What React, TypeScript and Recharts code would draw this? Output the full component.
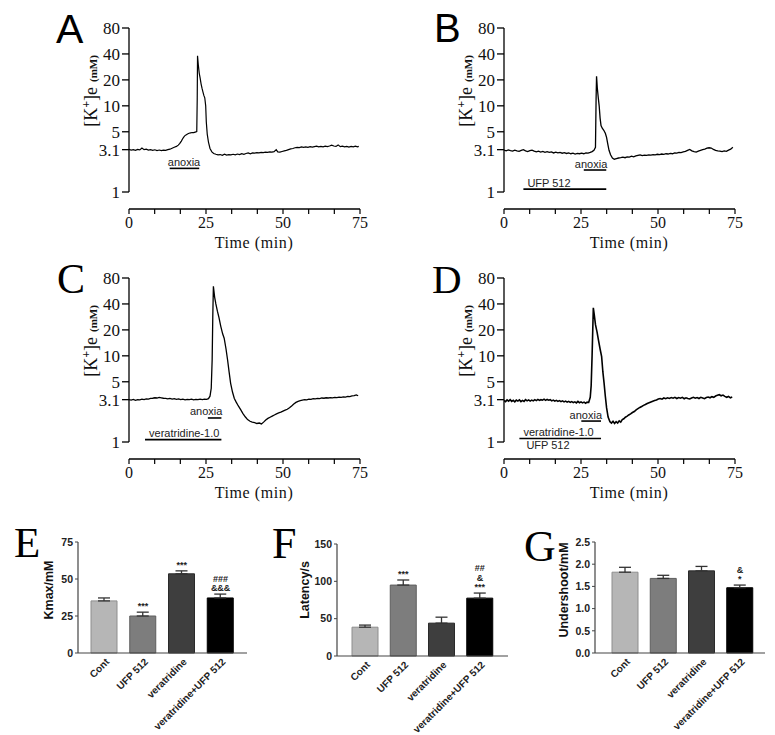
import React from 'react';
import {
  LineChart, Line, XAxis, YAxis, ReferenceLine, ComposedChart, Bar, ErrorBar, LabelList, Cell,
} from 'recharts';

// ---------- Trace data: [time (min), [K+]e (mM)] ----------
const traceA: [number, number][] = [
  [0,3.12],[0.7,3.06],[1.4,3.1],[2.1,3.04],[2.8,3.12],[3.5,3.08],[4.2,3.24],[4.9,3.1],[5.6,3.14],[6.3,3.06],[7,3.1],[7.7,3.05],[8.4,3.09],[9.1,3.03],[9.8,3.07],[10.5,3.02],[11.2,3.06],[11.9,3.04],[12.6,3.1],[13.3,3.14],[14,3.22],[14.7,3.3],[15.4,3.38],[16,3.5],[16.5,3.66],[17,3.9],[17.5,4.2],[18,4.45],[18.5,4.6],[19,4.72],[19.5,4.8],[20,4.86],[20.5,4.9],[21,4.88],[21.5,4.96],[22,5.02],[22.15,12],[22.25,38],[22.5,30],[22.8,24],[23.1,21],[23.4,18],[23.7,16],[24,14.5],[24.3,13.2],[24.6,12.4],[24.9,10],[25.1,6.5],[25.4,4.7],[25.8,3.8],[26.3,3.2],[26.9,2.92],[27.5,2.8],[28.2,2.74],[28.9,2.7],[29.6,2.72],[30.3,2.66],[31,2.74],[31.7,2.68],[32.4,2.72],[33.1,2.7],[33.8,2.74],[34.5,2.7],[35.2,2.76],[35.9,2.72],[36.6,2.78],[37.3,2.74],[38,2.8],[38.7,2.84],[39.4,2.78],[40.1,2.84],[40.8,2.82],[41.5,2.86],[42.2,2.84],[42.9,2.88],[43.6,2.86],[44.3,2.9],[45,2.88],[45.7,2.92],[46.4,2.9],[47.1,2.94],[47.8,3.1],[48.3,2.92],[49,2.9],[49.7,2.95],[50.4,3.0],[51.1,3.04],[51.8,3.1],[52.5,3.16],[53.2,3.2],[53.9,3.26],[54.6,3.3],[55.3,3.28],[56,3.34],[56.7,3.3],[57.4,3.34],[58.1,3.3],[58.8,3.36],[59.5,3.32],[60.2,3.36],[60.9,3.4],[61.6,3.34],[62.3,3.38],[63,3.34],[63.7,3.4],[64.4,3.36],[65.1,3.42],[65.8,3.5],[66.5,3.42],[67.2,3.38],[67.9,3.52],[68.6,3.36],[69.3,3.4],[70,3.34],[70.7,3.38],[71.4,3.32],[72.1,3.38],[72.8,3.34],[73.5,3.4],[74.2,3.34],[74.6,3.38],
];
const traceB: [number, number][] = [
  [0,3.06],[0.7,3.0],[1.4,3.08],[2.1,3.02],[2.8,2.98],[3.5,3.06],[4.2,3.0],[4.9,2.96],[5.6,3.04],[6.3,3.1],[7,3.0],[7.7,2.94],[8.4,3.02],[9.1,3.06],[9.8,2.98],[10.5,2.92],[11.2,2.98],[11.9,2.9],[12.6,2.96],[13.3,2.88],[14,2.94],[14.7,2.88],[15.4,2.92],[16.1,2.84],[16.8,2.9],[17.5,2.84],[18.2,2.88],[18.9,2.82],[19.6,2.86],[20.3,2.8],[21,2.84],[21.7,2.78],[22.4,2.82],[23.1,2.76],[23.8,2.8],[24.5,2.78],[25.2,2.82],[25.9,2.78],[26.6,2.84],[27.3,2.82],[28,2.88],[28.6,2.94],[29.2,3.05],[29.7,3.3],[29.9,12],[30.05,22],[30.3,16],[30.6,12.5],[30.9,10],[31.2,7.2],[31.5,5.9],[31.9,5.5],[32.4,5.2],[32.9,4.8],[33.3,4.3],[33.7,3.6],[34.1,3.05],[34.6,2.7],[35.2,2.48],[35.8,2.4],[36.5,2.44],[37.2,2.48],[37.9,2.5],[38.6,2.54],[39.3,2.5],[40,2.56],[40.7,2.54],[41.4,2.6],[42.1,2.56],[42.8,2.62],[43.5,2.66],[44.2,2.7],[44.9,2.64],[45.6,2.68],[46.3,2.66],[47,2.7],[47.7,2.68],[48.4,2.72],[49.1,2.7],[49.8,2.74],[50.5,2.72],[51.2,2.76],[51.9,2.74],[52.6,2.78],[53.3,2.76],[54,2.8],[54.7,2.78],[55.4,2.84],[56.1,2.82],[56.8,2.88],[57.5,2.86],[58.2,2.92],[58.9,2.96],[59.6,3.04],[60.3,3.12],[61,3.0],[61.7,2.94],[62.4,2.9],[63.1,2.98],[63.8,3.04],[64.5,3.1],[65.2,3.14],[65.9,3.22],[66.6,3.26],[67.3,3.24],[68,3.12],[68.7,3.04],[69.4,3.0],[70.1,2.98],[70.8,2.94],[71.5,3.0],[72.2,2.96],[72.9,3.06],[73.6,3.14],[74.3,3.3],
];
const traceC: [number, number][] = [
  [0,3.1],[0.7,3.06],[1.4,3.12],[2.1,3.04],[2.8,3.1],[3.5,3.08],[4.2,3.14],[4.9,3.1],[5.6,3.16],[6.3,3.14],[7,3.2],[7.7,3.22],[8.4,3.26],[9.1,3.24],[9.8,3.3],[10.5,3.26],[11.2,3.22],[11.9,3.2],[12.6,3.16],[13.3,3.2],[14,3.14],[14.7,3.18],[15.4,3.12],[16.1,3.16],[16.8,3.1],[17.5,3.14],[18.2,3.08],[18.9,3.12],[19.6,3.1],[20.3,3.14],[21,3.08],[21.7,3.12],[22.4,3.1],[23.1,3.14],[23.8,3.1],[24.5,3.14],[25.2,3.12],[25.8,3.18],[26.3,3.4],[26.7,4.2],[27.0,9],[27.2,28],[27.4,64],[27.8,48],[28.2,40],[28.7,33],[29.2,28],[29.8,22],[30.4,18],[30.9,16],[31.5,12],[32,9],[32.5,6.5],[33,4.8],[33.6,3.8],[34.2,3.2],[34.8,2.9],[35.5,2.62],[36.3,2.36],[37,2.14],[37.8,1.95],[38.5,1.82],[39.3,1.74],[40,1.7],[40.8,1.68],[41.5,1.64],[42.3,1.66],[43,1.62],[43.7,1.7],[44.4,1.8],[45.1,1.88],[45.8,1.94],[46.5,2.0],[47.2,2.06],[47.9,2.12],[48.6,2.18],[49.3,2.22],[50,2.28],[50.7,2.34],[51.4,2.4],[52.1,2.5],[52.8,2.62],[53.5,2.76],[54.2,2.88],[54.9,2.96],[55.6,3.02],[56.3,3.06],[57,3.1],[57.7,3.08],[58.4,3.14],[59.1,3.12],[59.8,3.18],[60.5,3.16],[61.2,3.2],[61.9,3.18],[62.6,3.24],[63.3,3.22],[64,3.26],[64.7,3.24],[65.4,3.28],[66.1,3.26],[66.8,3.3],[67.5,3.28],[68.2,3.32],[68.9,3.3],[69.6,3.34],[70.3,3.32],[71,3.38],[71.7,3.36],[72.4,3.42],[73.1,3.46],[73.8,3.52],[74.4,3.44],
];
const traceD: [number, number][] = [
  [0,3.04],[0.5,2.94],[1,3.08],[1.5,2.98],[2,3.1],[2.5,2.96],[3,3.04],[3.5,2.92],[4,3.06],[4.5,2.98],[5,3.08],[5.5,2.94],[6,3.04],[6.5,2.96],[7,3.1],[7.5,3.0],[8,3.08],[8.5,2.98],[9,3.06],[9.5,3.0],[10,3.1],[10.5,3.02],[11,3.12],[11.5,3.04],[12,3.1],[12.5,3.06],[13,3.14],[13.5,3.04],[14,3.12],[14.5,3.06],[15,3.1],[15.5,3.0],[16,3.06],[16.5,2.98],[17,3.04],[17.5,2.96],[18,3.02],[18.5,2.94],[19,3.0],[19.5,2.92],[20,2.98],[20.5,2.9],[21,2.96],[21.5,2.88],[22,2.94],[22.5,2.86],[23,2.92],[23.5,2.84],[24,2.96],[24.5,2.86],[25,2.92],[25.5,2.84],[26,2.9],[26.5,2.82],[27,2.9],[27.5,2.88],[28,3.3],[28.3,4.5],[28.6,10],[29,36],[29.3,30],[29.7,23],[30.2,19],[30.7,15],[31.2,12],[31.7,9.8],[32.1,6.5],[32.5,4.8],[32.9,3.4],[33.3,2.5],[33.8,1.95],[34.4,1.72],[34.9,1.66],[35.4,1.74],[35.9,1.64],[36.4,1.72],[36.9,1.66],[37.4,1.76],[37.9,1.7],[38.4,1.82],[38.9,1.86],[39.4,1.94],[39.9,1.98],[40.5,2.06],[41.1,2.12],[41.7,2.2],[42.3,2.26],[42.9,2.36],[43.5,2.44],[44.1,2.52],[44.7,2.58],[45.3,2.66],[45.9,2.72],[46.5,2.8],[47.1,2.86],[47.7,2.92],[48.3,2.98],[48.9,3.04],[49.5,3.08],[50.1,3.16],[50.7,3.2],[51.3,3.14],[51.9,3.24],[52.5,3.18],[53.1,3.26],[53.7,3.2],[54.3,3.28],[54.9,3.22],[55.5,3.3],[56.1,3.2],[56.7,3.28],[57.3,3.22],[57.9,3.3],[58.5,3.18],[59.1,3.26],[59.7,3.2],[60.3,3.16],[60.9,3.24],[61.5,3.3],[62.1,3.22],[62.7,3.28],[63.3,3.2],[63.9,3.3],[64.5,3.24],[65.1,3.18],[65.7,3.28],[66.3,3.32],[66.9,3.26],[67.5,3.36],[68.1,3.3],[68.7,3.42],[69.3,3.48],[69.9,3.54],[70.5,3.44],[71.1,3.5],[71.7,3.38],[72.3,3.3],[72.9,3.38],[73.5,3.26],[74.1,3.32],
];

// ---------- Treatment bars drawn under traces (time range, level) ----------
type Mark = { from: number; to: number; at: number; text: string; align: 'start' | 'end'; sub?: string };
const marksA: Mark[] = [{ from: 13.2, to: 22.8, at: 1.88, text: 'anoxia', align: 'end' }];
const marksB: Mark[] = [
  { from: 25.9, to: 33.2, at: 1.8, text: 'anoxia', align: 'end' },
  { from: 6.3, to: 33.2, at: 1.08, text: 'UFP 512', align: 'start' },
];
const marksC: Mark[] = [
  { from: 25.6, to: 30, at: 1.9, text: 'anoxia', align: 'end' },
  { from: 5.2, to: 30, at: 1.065, text: 'veratridine-1.0', align: 'start' },
];
const marksD: Mark[] = [
  { from: 25.1, to: 31.5, at: 1.75, text: 'anoxia', align: 'end' },
  { from: 5.0, to: 31.5, at: 1.1, text: 'veratridine-1.0', align: 'start', sub: 'UFP 512' },
];

const timeTicks = [0, 8.333, 16.667, 25, 33.333, 41.667, 50, 58.333, 66.667, 75];
const timeLabels = [0, 25, 50, 75];
const kTicks = [1, 3.1, 5, 10, 20, 40, 80];

// ---------- Bar chart data ----------
const groups = ['Cont', 'UFP 512', 'veratridine', 'veratridine+UFP 512'];
const kmaxMean = [35.2, 25.0, 53.5, 37.2];
const kmaxErr = [2.0, 2.6, 2.0, 2.6];
const kmaxSig = ['', '***', '***', '###|&&&'];
const latMean = [38.6, 95, 44, 77.5];
const latErr = [2.8, 6.8, 8, 6.8];
const latSig = ['', '***', '', '##|&|***'];
const undMean = [1.82, 1.68, 1.85, 1.47];
const undErr = [0.11, 0.07, 0.1, 0.06];
const undSig = ['', '', '', '&|*'];

const barFill = ['#b6b6b6', '#7d7d7d', '#3e3e3e', '#000000'];
const barStroke = ['#8e8e8e', '#5e5e5e', '#2a2a2a', '#000000'];

const SERIF = "'Liberation Serif', 'Times New Roman', serif";
const SANS = "'Liberation Sans', Arial, sans-serif";

const markLabel = (m: Mark) => (props: any) => {
  const vb = props.viewBox || {};
  const x1 = vb.x ?? 0;
  const w = vb.width ?? 0;
  const y = vb.y ?? 0;
  const tx = m.align === 'end' ? x1 + w + 1 : x1 + 4;
  return (
    <g>
      <text x={tx} y={y - 2.5} textAnchor={m.align} fontFamily={SANS} fontSize={11} fill="#222">{m.text}</text>
      {m.sub ? (
        <text x={x1 + 7} y={y + 10.5} textAnchor="start" fontFamily={SANS} fontSize={11} fill="#222">{m.sub}</text>
      ) : null}
    </g>
  );
};

const KLabel = () => (
  <text transform="translate(97,91) rotate(-90)" textAnchor="middle" fontFamily={SERIF} fill="#111">
    <tspan fontSize={18}>[K</tspan>
    <tspan fontSize={12} fontWeight="bold" dy={-7}>+</tspan>
    <tspan fontSize={18} dy={7}>]e</tspan>
    <tspan fontSize={11} fontWeight="bold" dx={5}>(mM)</tspan>
  </text>
);

const TimeLabel = () => (
  <text x={254} y={248} textAnchor="middle" fontFamily={SERIF} fontSize={16} letterSpacing={0.6} fill="#111">
    Time (min)
  </text>
);

const fmtTime = (v: number) => {
  const r = Math.round(v);
  return Math.abs(v - r) < 0.01 && timeLabels.includes(r) ? String(r) : '';
};

function TracePanel({ trace, marks, left, top, lw }: { trace: [number, number][]; marks: Mark[]; left: number; top: number; lw: number }) {
  const data = trace.map(([t, k]) => ({ t, k }));
  return (
    <div style={{ position: 'absolute', left, top }}>
      <LineChart width={385} height={252} data={data} margin={{ top: 28, right: 25, bottom: 0, left: 0 }}>
        <XAxis
          type="number" dataKey="t" domain={[0, 75]} ticks={timeTicks} interval={0} allowDataOverflow
          tickFormatter={fmtTime} height={43} tickSize={5} tickMargin={3}
          axisLine={{ stroke: '#000', strokeWidth: 1.3 }} tickLine={{ stroke: '#000', strokeWidth: 1.2 }}
          tick={{ fill: '#111', fontFamily: SERIF, fontSize: 16 }}
          label={{ content: TimeLabel }}
        />
        <YAxis
          type="number" scale="log" domain={[0.635, 80]} ticks={kTicks} interval={0} allowDataOverflow
          width={129} axisLine={false} tickSize={7} tickMargin={2}
          tickLine={{ stroke: '#000', strokeWidth: 1.3 }}
          tick={{ fill: '#111', fontFamily: SERIF, fontSize: 17 }}
          label={{ content: KLabel }}
        />
        <ReferenceLine segment={[{ x: 0, y: 1 }, { x: 0, y: 80 }]} stroke="#000" strokeWidth={1.3} />
        {marks.map((m, i) => (
          <ReferenceLine
            key={i}
            segment={[{ x: m.from, y: m.at }, { x: m.to, y: m.at }]}
            stroke="#000" strokeWidth={1.6}
            label={{ content: markLabel(m) }}
          />
        ))}
        <Line type="linear" dataKey="k" stroke="#000" strokeWidth={lw} dot={false} activeDot={false} isAnimationActive={false} />
      </LineChart>
    </div>
  );
}

const CatTick = (props: any) => {
  const { x, y, payload } = props;
  return (
    <g transform={`translate(${x + 3},${y + 1})`}>
      <text textAnchor="end" transform="rotate(-45)" dy="0.35em" fontFamily={SANS} fontSize={10} fontWeight="bold" fill="#222">
        {payload.value}
      </text>
    </g>
  );
};

const SigLabel = (props: any) => {
  const { x, y, value } = props;
  if (!value) return null;
  const lines = String(value).split('|');
  const n = lines.length;
  return (
    <g>
      {lines.map((s, i) => (
        <text key={i} x={x} y={y - 3 - (n - 1 - i) * 9.5} textAnchor="middle" fontFamily={SANS} fontSize={9} fontWeight="bold" fill="#222">
          {s}
        </text>
      ))}
    </g>
  );
};

type BarProps = {
  means: number[]; errs: number[]; sig: string[]; yLabel: string; yMax: number; yTicks: number[];
  fmt: (v: number) => string; left: number; width: number; plotL: number; plotT: number; plotB: number; plotR: number;
  padL: number; padR: number; labelX: number;
};

function BarPanel(p: BarProps) {
  const height = 245;
  const data = groups.map((g, i) => ({ g, m: p.means[i], e: [0, p.errs[i]], top: p.means[i] + p.errs[i], s: p.sig[i] }));
  const YLab = () => (
    <text transform={`translate(${p.labelX},100) rotate(-90)`} textAnchor="middle" fontFamily={SANS} fontSize={12.5} fontWeight="bold" fill="#111">
      {p.yLabel}
    </text>
  );
  return (
    <div style={{ position: 'absolute', left: p.left, top: 490 }}>
      <ComposedChart width={p.width} height={height} data={data} margin={{ top: p.plotT, right: p.width - p.plotR, bottom: 0, left: 0 }}>
        <XAxis
          dataKey="g" type="category" interval={0} padding={{ left: p.padL, right: p.padR }}
          height={height - p.plotB} tickLine={false} tickSize={4} tickMargin={2}
          axisLine={{ stroke: '#444', strokeWidth: 1.2 }} tick={<CatTick />}
        />
        <YAxis
          type="number" domain={[0, p.yMax]} ticks={p.yTicks} interval={0} tickFormatter={p.fmt}
          width={p.plotL} tickSize={3} tickMargin={2}
          axisLine={{ stroke: '#444', strokeWidth: 1.2 }} tickLine={{ stroke: '#444' }}
          tick={{ fill: '#222', fontFamily: SANS, fontSize: 10.5, fontWeight: 'bold' }}
          label={{ content: YLab }}
        />
        <Bar dataKey="m" barSize={26} isAnimationActive={false}>
          {data.map((_, i) => (
            <Cell key={i} fill={barFill[i]} stroke={barStroke[i]} strokeWidth={1} />
          ))}
          <ErrorBar dataKey="e" width={6} stroke="#333" strokeWidth={1.3} direction="y" />
        </Bar>
        <Line dataKey="top" stroke="none" dot={false} activeDot={false} isAnimationActive={false}>
          <LabelList dataKey="s" content={SigLabel} />
        </Line>
      </ComposedChart>
    </div>
  );
}

export default function App() {
  return (
    <div style={{ position: 'absolute', left: 0, top: 0, width: 775, height: 735, background: '#fff', overflow: 'hidden' }}>
      <TracePanel trace={traceA} marks={marksA} left={0} top={0} lw={1.2} />
      <TracePanel trace={traceB} marks={marksB} left={375} top={0} lw={1.3} />
      <TracePanel trace={traceC} marks={marksC} left={0} top={250} lw={1.3} />
      <TracePanel trace={traceD} marks={marksD} left={375} top={250} lw={1.6} />
      <BarPanel means={kmaxMean} errs={kmaxErr} sig={kmaxSig} yLabel="Kmax/mM" yMax={75} yTicks={[0, 25, 50, 75]}
        fmt={(v) => String(v)} left={0} width={255} plotL={78} plotT={52} plotB={163} plotR={247} padL={7} padR={7} labelX={53} />
      <BarPanel means={latMean} errs={latErr} sig={latSig} yLabel="Latency/s" yMax={150} yTicks={[0, 50, 100, 150]}
        fmt={(v) => String(v)} left={255} width={260} plotL={82} plotT={54} plotB={166} plotR={253} padL={9} padR={9} labelX={54} />
      <BarPanel means={undMean} errs={undErr} sig={undSig} yLabel="Undershoot/mM" yMax={2.5} yTicks={[0, 0.5, 1, 1.5, 2, 2.5]}
        fmt={(v) => v.toFixed(1)} left={510} width={265} plotL={85} plotT={52} plotB={163} plotR={255} padL={11} padR={6} labelX={58} />
      <svg width={775} height={735} style={{ position: 'absolute', left: 0, top: 0, pointerEvents: 'none' }}>
        <text x={56} y={43} fontFamily={SANS} fontSize={41} fill="#000">A</text>
        <text x={434} y={42} fontFamily={SANS} fontSize={40} fill="#000">B</text>
        <text x={57} y={293} fontFamily={SERIF} fontSize={42} fill="#000">C</text>
        <text x={432} y={293} fontFamily={SERIF} fontSize={41} fill="#000">D</text>
        <text x={14} y={557} fontFamily={SERIF} fontSize={43} fill="#000">E</text>
        <text x={272} y={558} fontFamily={SERIF} fontSize={44} fill="#000">F</text>
        <text x={524} y={561} fontFamily={SERIF} fontSize={44} fill="#000">G</text>
      </svg>
    </div>
  );
}
